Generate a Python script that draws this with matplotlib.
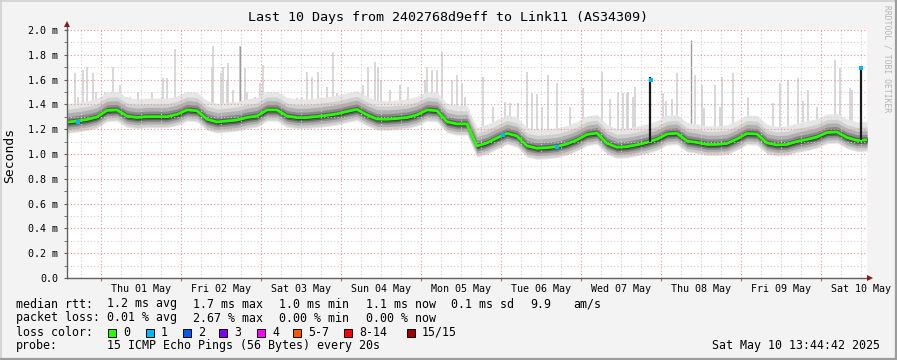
import numpy as np
import pandas as pd
import matplotlib
matplotlib.use("Agg")
import matplotlib.pyplot as plt
import matplotlib.dates as mdates
from matplotlib.lines import Line2D
from matplotlib.patches import Rectangle
from matplotlib.ticker import FuncFormatter, MultipleLocator, NullFormatter

# --- datos ---
TITLE = "Last 10 Days from 2402768d9eff to Link11 (AS34309)"
START = pd.Timestamp("2025-04-30 13:44:42")
END = pd.Timestamp("2025-05-10 13:44:42")
STAMP = "Sat May 10 13:44:42 2025"

# mediana del rtt cada 3 horas (ms)
median_ms = [
    1.256, 1.266, 1.278, 1.298, 1.351, 1.355, 1.306, 1.294, 1.301, 1.301,
    1.301, 1.319, 1.355, 1.349, 1.280, 1.258, 1.266, 1.274, 1.294, 1.306,
    1.355, 1.355, 1.306, 1.293, 1.294, 1.302, 1.312, 1.323, 1.343, 1.360,
    1.315, 1.282, 1.280, 1.286, 1.294, 1.315, 1.355, 1.349, 1.260, 1.242,
    1.242, 1.065, 1.089, 1.129, 1.167, 1.145, 1.065, 1.046, 1.051, 1.060,
    1.081, 1.113, 1.157, 1.169, 1.086, 1.054, 1.059, 1.074, 1.093, 1.119,
    1.161, 1.167, 1.105, 1.093, 1.077, 1.077, 1.085, 1.121, 1.165, 1.161,
    1.089, 1.073, 1.077, 1.101, 1.117, 1.137, 1.173, 1.177, 1.133, 1.109,
    1.113,
]

# "humo": distancia de cada banda a la mediana (ms), de dentro a fuera
smoke_up = [0.012, 0.025, 0.045, 0.075, 0.105, 0.150]
smoke_down = [0.012, 0.025, 0.040, 0.060, 0.080, 0.090]
smoke_colors = ["#2e2e2e", "#5c5c5c", "#8a8a8a", "#b0b0b0", "#d0d0d0",
                "#e6e6e6"]

# picos (horas desde el inicio, ms maximos)
spike_h = [2.4, 3.3, 4.8, 6.0, 7.8, 8.7, 11.4, 13.8, 15.3, 15.9, 18.0, 18.9,
           21.3, 24.3, 25.5, 27.0, 28.5, 28.8, 30.0, 32.4, 36.0, 43.5, 43.8,
           46.2, 46.8, 48.0, 48.3, 49.8, 51.9, 53.4, 54.0, 56.4, 57.9, 58.8,
           60.0, 61.8, 69.0, 70.5, 72.0, 73.5, 75.3, 78.0, 79.8, 81.0, 82.8,
           87.0, 88.8, 90.3, 92.4, 93.3, 94.2, 96.9, 99.9, 102.0, 102.3, 105.0,
           105.9, 107.4, 108.0, 109.5, 111.0, 112.5, 115.5, 117.0, 118.5,
           119.4, 124.8, 127.8, 131.4, 132.9, 135.3, 138.0, 139.5, 141.0,
           142.5, 144.3, 147.0, 150.9, 154.8, 160.5, 162.9, 165.3, 166.8,
           168.0, 168.3, 169.8, 170.4, 178.8, 179.7, 181.5, 183.0, 188.4,
           190.5, 191.0, 194.4, 195.9, 196.5, 199.8, 204.3, 211.8, 213.9,
           216.3, 219.3, 220.8, 222.3, 225.0, 230.4, 231.9, 234.9, 235.5]
spike_ms = [1.65, 1.46, 1.68, 1.70, 1.65, 1.50, 1.50, 1.70, 1.47, 1.56, 1.46,
            1.46, 1.50, 1.44, 1.50, 1.41, 1.46, 1.61, 1.61, 1.85, 1.45, 1.69,
            1.87, 1.65, 1.70, 1.60, 1.73, 1.52, 1.87, 1.69, 1.50, 1.46, 1.57,
            1.72, 1.50, 1.49, 1.45, 1.46, 1.66, 1.62, 1.66, 1.54, 1.82, 1.49,
            1.44, 1.49, 1.56, 1.70, 1.74, 1.70, 1.60, 1.52, 1.56, 1.44, 1.54,
            1.44, 1.46, 1.60, 1.70, 1.68, 1.68, 1.82, 1.60, 1.64, 1.57, 1.46,
            1.62, 1.38, 1.42, 1.41, 1.41, 1.66, 1.49, 1.48, 1.38, 1.64, 1.57,
            1.38, 1.53, 1.66, 1.44, 1.50, 1.49, 1.49, 1.50, 1.46, 1.54, 1.49,
            1.43, 1.44, 1.65, 1.64, 1.56, 1.37, 1.56, 1.38, 1.62, 1.65, 1.46,
            1.41, 1.57, 1.60, 1.61, 1.43, 1.52, 1.38, 1.76, 1.69, 1.53, 1.52]
dark_spike_h = [51.9, 187.2]
dark_spike_ms = [1.87, 1.92]
SHIFT_H = 122.1   # hora del salto de ruta (lunes 05)

# saltos negros de la mediana (con perdida)
jump_h = [174.9, 238.2]
jump_base = [1.093, 1.113]
jump_top = [1.62, 1.71]

# puntos con 1 paquete perdido
loss1_h = [3.3, 130.8, 147.0, 175.2, 238.2]
loss1_ms = [1.262, 1.150, 1.060, 1.600, 1.690]

# leyenda
loss_labels = ["0", "1", "2", "3", "4", "5-7", "8-14", "15/15"]
loss_colors = ["#26ff00", "#00b8ff", "#0059ff", "#7e00ff", "#ff00ff",
               "#ff5500", "#ff0000", "#a10000"]
rtt_items = ["1.2 ms avg", "1.7 ms max", "1.0 ms min", "1.1 ms now",
             "0.1 ms sd", "9.9", "am/s"]
loss_items = ["0.01 % avg", "2.67 % max", "0.00 % min", "0.00 % now"]
probe_text = "15 ICMP Echo Pings (56 Bytes) every 20s"

# --- figura ---
W, H = 897, 360
MONO = "DejaVu Sans Mono"
plt.rcParams["font.family"] = MONO

fig = plt.figure(figsize=(W / 100, H / 100), dpi=100)
fig.patch.set_facecolor("#f3f3f3")
ax = fig.add_axes([67 / W, (H - 278) / H, 800 / W, 248 / H])
ax.set_facecolor("white")

t = pd.date_range(START, periods=len(median_ms), freq="3h")
med = np.array(median_ms)
hrs = lambda h: START + pd.to_timedelta(np.asarray(h), unit="h")

# picos claros (arrancan dentro del humo)
base = np.where(np.array(spike_h) < SHIFT_H, 1.28, 1.12)
ax.vlines(hrs(spike_h), base, spike_ms, color="#cdcdcd", lw=1.1, zorder=1)
ax.vlines(hrs(dark_spike_h), [1.28, 1.12], dark_spike_ms,
          color="#9a9a9a", lw=1.0, zorder=1)

# bandas de humo (de fuera a dentro)
for up, down, c in reversed(list(zip(smoke_up, smoke_down, smoke_colors))):
    ax.fill_between(t, med - down, med + up, color=c, lw=0, zorder=2)

# mediana
ax.plot(t, med, color="#26ff00", lw=2.0, zorder=4, solid_capstyle="butt")
ax.vlines(hrs(jump_h), jump_base, jump_top, color="#1a1a1a", lw=1.6, zorder=4)
ax.plot(hrs(loss1_h), loss1_ms, ls="none", marker="s", ms=2.2,
        color=loss_colors[1], mew=0, zorder=5)

ax.set_xlim(START, END)
ax.set_ylim(0, 2.0)

# ejes y rejilla (encima del humo, debajo de la mediana)
red = "#f29090"
grey = "#cfcfcf"
ax.set_axisbelow(False)
ax.xaxis.set_major_locator(mdates.DayLocator())
ax.xaxis.set_major_formatter(NullFormatter())
ax.xaxis.set_minor_locator(mdates.HourLocator(byhour=[6, 12, 18]))


def etiqueta_dia(x, pos):
    d = mdates.num2date(x)
    return d.strftime("%a %d %b") if d.hour == 12 else ""


ax.xaxis.set_minor_formatter(FuncFormatter(etiqueta_dia))
ax.yaxis.set_major_locator(MultipleLocator(0.2))
ax.yaxis.set_minor_locator(MultipleLocator(0.1))
ax.yaxis.set_major_formatter(FuncFormatter(
    lambda v, p: "0.0" if abs(v) < 1e-9 else f"{v:.1f} m"))

ax.grid(which="major", color=red, lw=0.8, ls=(0, (1, 2)))
ax.grid(which="minor", color=grey, lw=0.8, ls=(0, (1, 2)))

ax.tick_params(axis="x", which="major", length=2, color="#e06060",
               labelbottom=False)
ax.tick_params(axis="x", which="minor", length=0, pad=4.5,
               labelsize=7.2, labelcolor="#000000")
ax.tick_params(axis="y", which="both", length=2.5, color="#606060",
               direction="out", pad=4, labelsize=7.2)

for s in ["top", "right"]:
    ax.spines[s].set_visible(False)
for s in ["left", "bottom"]:
    ax.spines[s].set_color("#606060")
    ax.spines[s].set_linewidth(1.0)
    ax.spines[s].set_zorder(6)

# flechas de los ejes
ax.plot([0, 0], [1.0, 1.025], color="#606060", lw=1.0,
        transform=ax.transAxes, clip_on=False, zorder=6)
ax.plot(0, 1.025, marker="^", ms=4.5, color="#8b1a1a", mew=0,
        transform=ax.transAxes, clip_on=False, zorder=7)
ax.plot([1.0, 1.004], [0, 0], color="#606060", lw=1.0,
        transform=ax.transAxes, clip_on=False, zorder=6)
ax.plot(1.004, 0, marker=">", ms=4.5, color="#8b1a1a", mew=0,
        transform=ax.transAxes, clip_on=False, zorder=7)


def ftext(x, y, s, **kw):
    return fig.text(x / W, 1 - y / H, s, **kw)


ftext(448, 18, TITLE, ha="center", va="center", fontsize=9.6)
ftext(10, 155, "Seconds", ha="center", va="center", rotation=90, fontsize=9.4)
ftext(887, 5, "RRDTOOL / TOBI OETIKER", ha="center", va="top",
      rotation=270, fontsize=5.8, color="#b4b4b4")

LEG = 8.4
ftext(16, 304, "median rtt:", va="center", fontsize=LEG)
for x, s in zip([107, 193, 279, 366, 451, 530, 573], rtt_items):
    ftext(x, 304, s, va="center", fontsize=LEG)
ftext(16, 318, "packet loss:", va="center", fontsize=LEG)
for x, s in zip([107, 193, 279, 366], loss_items):
    ftext(x, 318, s, va="center", fontsize=LEG)
ftext(16, 332, "loss color:", va="center", fontsize=LEG)
box_x = [108, 146, 183, 219, 257, 293, 344, 407]
for bx, lab, c in zip(box_x, loss_labels, loss_colors):
    fig.add_artist(Rectangle((bx / W, 1 - 336.5 / H), 8 / W, 8 / H,
                             transform=fig.transFigure, facecolor=c,
                             edgecolor="black", lw=0.7))
    ftext(bx + 15, 332, lab, va="center", fontsize=LEG)
ftext(16, 346, "probe:", va="center", fontsize=LEG)
ftext(107, 346, probe_text, va="center", fontsize=LEG)
ftext(880, 346, STAMP, ha="right", va="center", fontsize=LEG)

# marco del lienzo
fig.add_artist(Line2D([0, 1], [1 - 0.5 / H] * 2, transform=fig.transFigure,
                      color="#cfcfcf", lw=1.2))
fig.add_artist(Line2D([0.5 / W] * 2, [0, 1], transform=fig.transFigure,
                      color="#cfcfcf", lw=1.2))
fig.add_artist(Line2D([0, 1], [1 / H] * 2, transform=fig.transFigure,
                      color="#9c9c9c", lw=1.6))
fig.add_artist(Line2D([1 - 1 / W] * 2, [0, 1], transform=fig.transFigure,
                      color="#9c9c9c", lw=1.6))

fig.savefig("out.png", dpi=100, facecolor=fig.get_facecolor())
